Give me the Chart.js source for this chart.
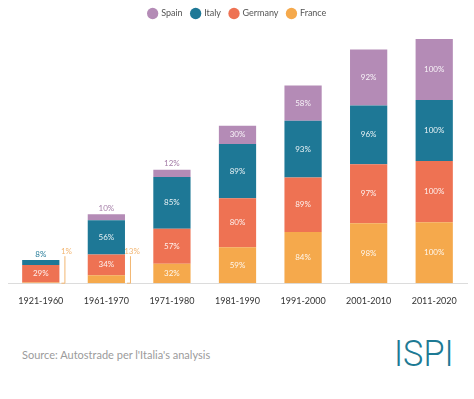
<!DOCTYPE html>
<html>
<head>
<meta charset="utf-8">
<script src="https://cdn.jsdelivr.net/npm/chart.js@4"></script>
<style>
  html, body { margin: 0; padding: 0; background: #fff; }
  #wrap { position: relative; width: 474px; height: 399px; overflow: hidden; }
  #box { position: absolute; left: 0; top: 0; width: 474px; height: 310px; }
  #source { position: absolute; left: 22px; top: 348px; font: 11px Lato, sans-serif; color: #9b9b9b; }
  #logo { position: absolute; left: 394px; top: 333px; font: 300 36px Roboto, sans-serif; color: #1d7a94; letter-spacing: 0px; transform: scaleX(0.95); transform-origin: left top; }
</style>
</head>
<body>
<div id="wrap">
  <div id="box"><canvas id="chart"></canvas></div>
  <div id="source">Source: Autostrade per l'Italia's analysis</div>
  <div id="logo">ISPI</div>
</div>
<script>
const periods = ['1921-1960', '1961-1970', '1971-1980', '1981-1990', '1991-2000', '2001-2010', '2011-2020'];
const france  = [1, 13, 32, 59, 84, 98, 100];
const germany = [29, 34, 57, 80, 89, 97, 100];
const italy   = [8, 56, 85, 89, 93, 96, 100];
const spain   = [0, 10, 12, 30, 58, 92, 100];

const colors = { France: '#f5a94c', Germany: '#ee7253', Italy: '#1e7896', Spain: '#b48bb6' };
const outColors = { France: '#f2b672', Germany: '#ee7253', Italy: '#2a7f9b', Spain: '#a57ea8' };

// percentage labels: inside when the segment is tall enough, else outside
const segLabels = {
  id: 'segLabels',
  afterDatasetsDraw(chart) {
    const ctx = chart.ctx;
    ctx.save();
    ctx.font = '8px Lato, sans-serif';
    ctx.textAlign = 'center';
    ctx.textBaseline = 'middle';
    chart.data.datasets.forEach((ds, i) => {
      chart.getDatasetMeta(i).data.forEach((bar, j) => {
        const v = ds.data[j];
        if (!v) return;
        const h = bar.base - bar.y;
        const txt = v + '%';
        if (h >= 12) {
          ctx.fillStyle = 'rgba(255,255,255,0.9)';
          ctx.fillText(txt, bar.x, (bar.y + bar.base) / 2);
        } else if (i === 0) {
          const lx = bar.x + bar.width / 2 + 5;
          ctx.strokeStyle = outColors[ds.label];
          ctx.lineWidth = 1;
          ctx.beginPath();
          ctx.moveTo(lx + 0.5, bar.base - 27);
          ctx.lineTo(lx + 0.5, bar.base);
          ctx.lineTo(lx - 3, bar.base);
          ctx.stroke();
          ctx.fillStyle = outColors[ds.label];
          ctx.fillText(txt, lx + 2, bar.base - 32);
        } else {
          ctx.fillStyle = outColors[ds.label];
          ctx.fillText(txt, bar.x, bar.y - 6);
        }
      });
    });
    ctx.restore();
  }
};

const legendHeight = {
  id: 'legendHeight',
  beforeInit(chart) {
    const fit = chart.legend.fit;
    chart.legend.fit = function () {
      fit.bind(chart.legend)();
      this.height = 39;
    };
  }
};

new Chart(document.getElementById('chart'), {
  type: 'bar',
  data: {
    labels: periods,
    datasets: [
      { label: 'France', data: france, backgroundColor: colors.France },
      { label: 'Germany', data: germany, backgroundColor: colors.Germany },
      { label: 'Italy', data: italy, backgroundColor: colors.Italy },
      { label: 'Spain', data: spain, backgroundColor: colors.Spain }
    ]
  },
  options: {
    responsive: true,
    maintainAspectRatio: false,
    animation: false,
    datasets: { bar: { categoryPercentage: 0.8, barPercentage: 0.71 } },
    layout: { padding: { left: 8, right: 7, top: 0, bottom: 0 } },
    plugins: {
      legend: {
        position: 'top',
        reverse: true,
        labels: {
          usePointStyle: true,
          pointStyle: 'circle',
          boxWidth: 8,
          boxHeight: 8,
          padding: 9,
          color: '#555',
          font: { family: 'Lato, sans-serif', size: 9 }
        }
      },
      tooltip: { enabled: false }
    },
    scales: {
      x: {
        stacked: true,
        grid: { display: false },
        border: { color: '#dcdcdc' },
        ticks: { color: '#333', font: { family: 'Lato, sans-serif', size: 9 }, padding: 4 }
      },
      y: {
        stacked: true,
        display: false,
        min: 0,
        max: 400
      }
    }
  },
  plugins: [segLabels, legendHeight]
});
</script>
</body>
</html>
